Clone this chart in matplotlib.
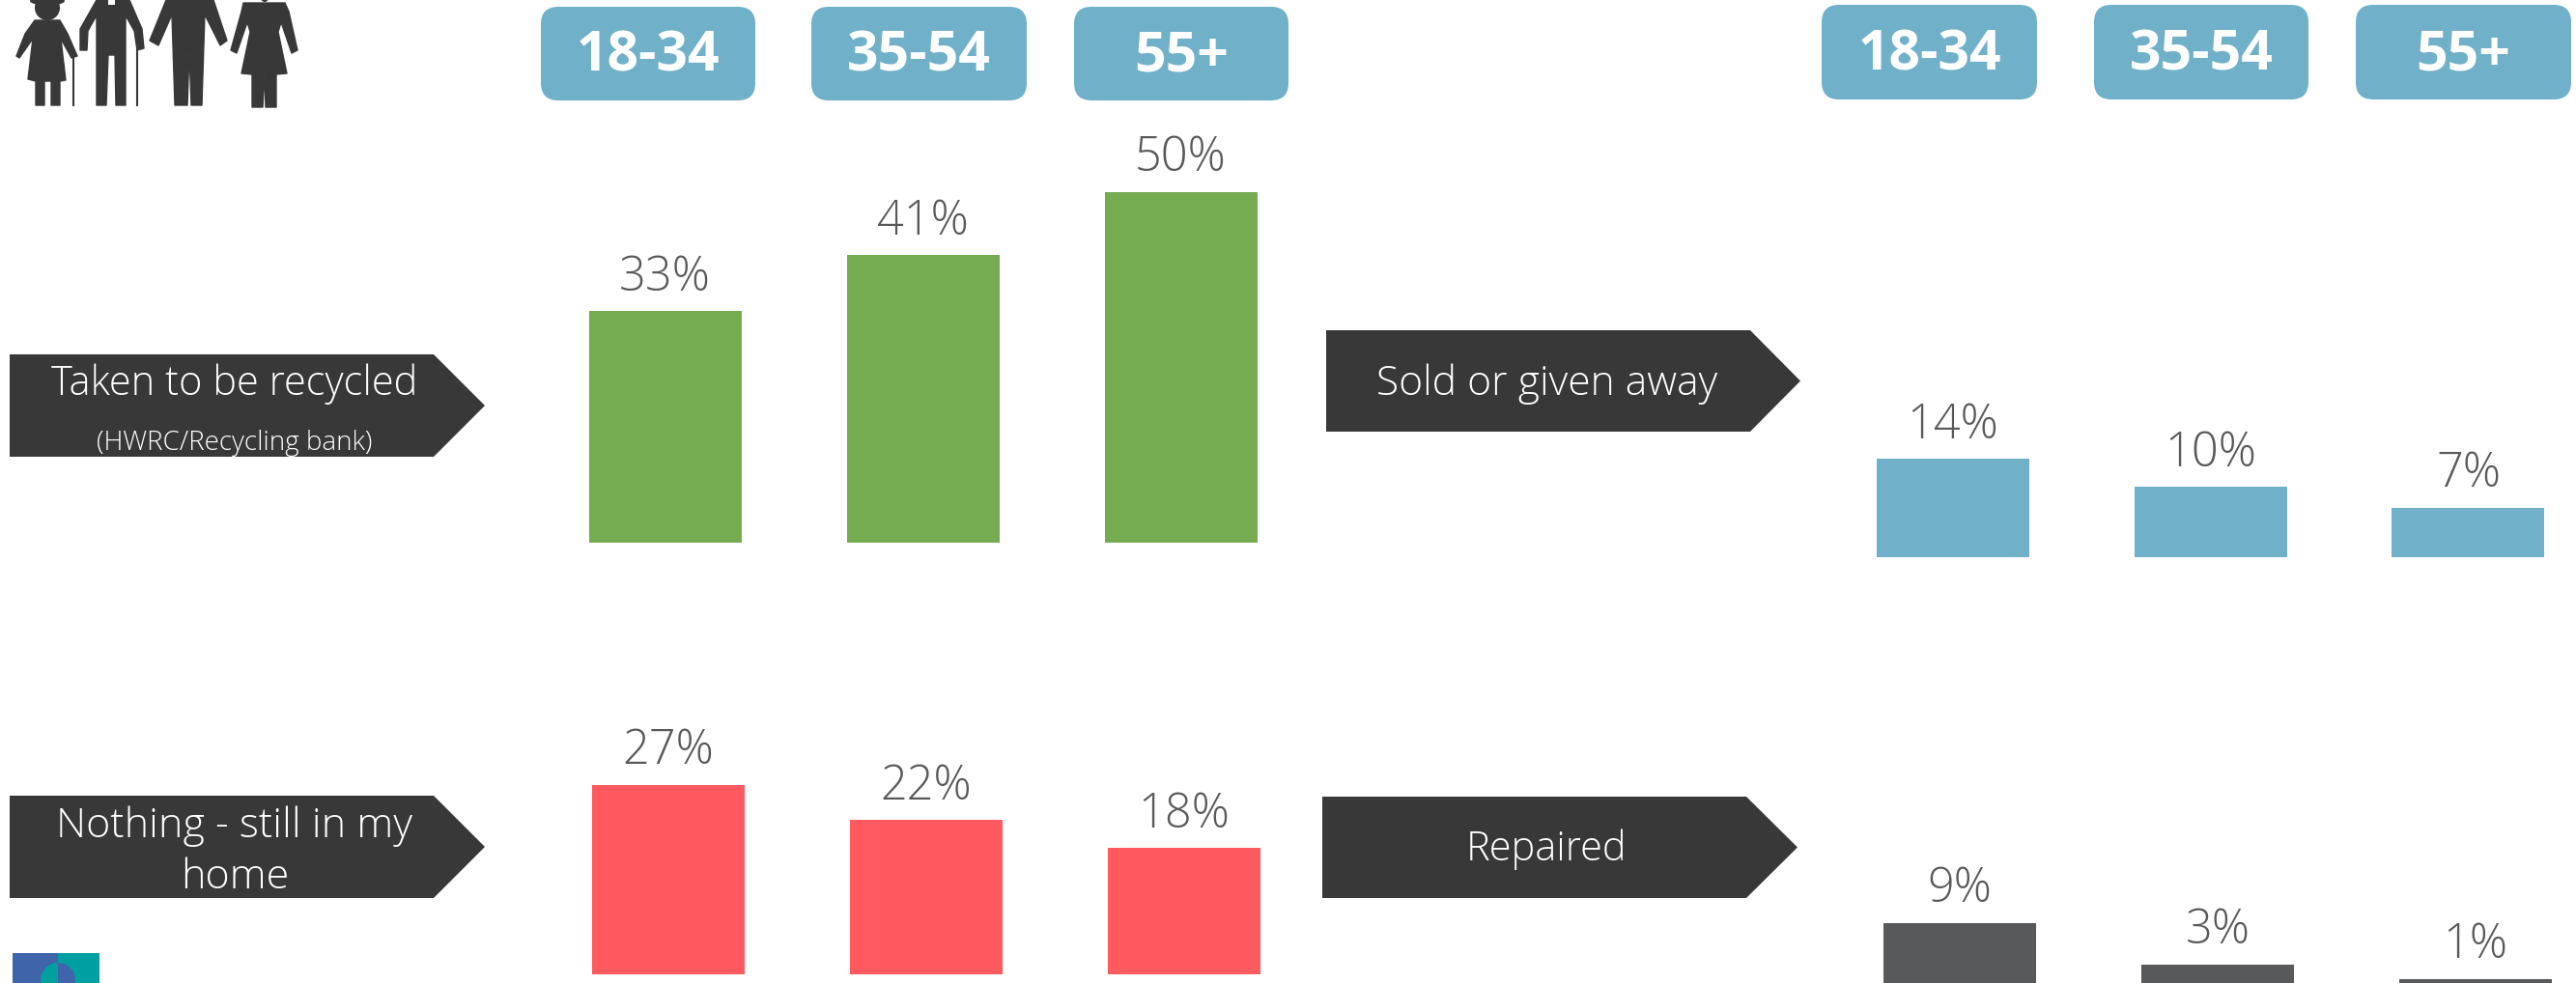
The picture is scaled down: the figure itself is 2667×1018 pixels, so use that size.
#!/usr/bin/env python3
import matplotlib
matplotlib.use("Agg")
import matplotlib.pyplot as plt
from matplotlib.patches import FancyBboxPatch, Polygon, Rectangle, Circle, Ellipse, Wedge

W, H = 2667, 1018
FONT = "Open Sans"

ages = ["18-34", "35-54", "55+"]
recycled = [33, 41, 50]
still_home = [27, 22, 18]
sold = [14, 10, 7]
repaired = [9, 3, 1]

GREEN = "#75AC52"
RED = "#FF5A5F"
BLUE = "#70B1C9"
GREY = "#58595B"
DARK = "#383838"
LABEL = "#595959"

fig = plt.figure(figsize=(W / 100, H / 100), dpi=100, facecolor="white")
bg = fig.add_axes([0, 0, 1, 1])
bg.set_xlim(0, W)
bg.set_ylim(H, 0)
bg.axis("off")


def bar_panel(values, color, first_centre, baseline):
    # one small axes per group, placed in pixels, 7.26 px per percent
    step = 267.0
    top = baseline - 7.26 * 60
    ax = fig.add_axes([(first_centre - step / 2) / W, 1 - baseline / H,
                       3 * step / W, (baseline - top) / H])
    ax.patch.set_alpha(0)
    bars = ax.bar(range(3), values, width=158 / step, color=color)
    ax.set_xlim(-0.5, 2.5)
    ax.set_ylim(0, 60)
    ax.axis("off")
    for b, v in zip(bars, values):
        ax.annotate("{}%".format(v), (b.get_x() + b.get_width() / 2, v),
                    xytext=(0, 7), textcoords="offset points", ha="center",
                    va="bottom", color=LABEL, fontsize=35, family=FONT,
                    fontweight=300, annotation_clip=False)


bar_panel(recycled, GREEN, 688.5, 562)
bar_panel(still_home, RED, 692, 1009)
bar_panel(sold, BLUE, 2021.5, 577)
bar_panel(repaired, GREY, 2029, 1021)


def pill(x0, x1, y0, y1, text):
    r = 18
    bg.add_patch(FancyBboxPatch((x0 + r, y0 + r), x1 - x0 - 2 * r, y1 - y0 - 2 * r,
                                boxstyle="round,pad={},rounding_size={}".format(r, r),
                                fc=BLUE, ec="none"))
    bg.text((x0 + x1) / 2, (y0 + y1) / 2 + 3, text, color="white", fontsize=41,
            fontweight="bold", family=FONT, ha="center", va="center")


for (x0, x1), t in zip([(560, 782), (840, 1063), (1112, 1334)], ages):
    pill(x0, x1, 7, 104, t)
for (x0, x1), t in zip([(1886, 2109), (2168, 2390), (2439, 2662)], ages):
    pill(x0, x1, 5, 103, t)


def arrow(x0, shoulder, tip, y0, y1):
    bg.add_patch(Polygon([(x0, y0), (shoulder, y0), (tip, (y0 + y1) / 2),
                          (shoulder, y1), (x0, y1)], fc=DARK, ec="none"))


arrow(10, 449, 502, 367, 473)
arrow(1373, 1812, 1864, 342, 447)
arrow(10, 449, 502, 824, 930)
arrow(1369, 1808, 1861, 825, 930)

txt = dict(color="white", family=FONT, fontweight=300, ha="center", va="center")
bg.text(243, 398, "Taken to be recycled", fontsize=30, **txt)
bg.text(243, 459, "(HWRC/Recycling bank)", fontsize=20, **txt)
bg.text(243, 856, "Nothing - still in my", fontsize=31, **txt)
bg.text(243, 909, "home", fontsize=31, **txt)
bg.text(1602, 398, "Sold or given away", fontsize=30.7, **txt)
bg.text(1601, 880, "Repaired", fontsize=30, **txt)

# people icon, outlines in px
people = [
    [(36, 21), (62, 21), (70, 35), (80, 58), (74, 60), (63, 40), (68, 83), (62, 84), (62, 109),
     (53, 109), (53, 84), (46, 84), (46, 109), (37, 109), (37, 84), (29, 82), (34, 40),
     (20, 60), (17, 58), (26, 35)],
    [(100, 0), (134, 0), (147, 30), (149, 50), (142, 52), (139, 32), (130, 16), (130, 109),
     (120, 109), (119, 57), (112, 57), (110, 109), (100, 109), (100, 16), (91, 32), (90, 52),
     (83, 52), (83, 30)],
    [(172, 0), (221, 0), (235, 42), (228, 47), (212, 15), (209, 109), (198, 109), (196, 53),
     (194, 109), (181, 109), (178, 15), (164, 47), (155, 42)],
    [(252, 3), (295, 3), (299, 12), (308, 52), (302, 55), (291, 23), (288, 33), (297, 76),
     (286, 77), (286, 111), (275, 111), (274, 77), (272, 111), (261, 111), (261, 77),
     (250, 76), (259, 33), (256, 23), (245, 55), (239, 52), (250, 12)],
]
for pts in people:
    bg.add_patch(Polygon(pts, fc=DARK, ec=DARK, lw=1, joinstyle="round"))
bg.add_patch(Circle((49, 8), 13, fc=DARK, ec="none"))
bg.add_patch(Ellipse((49, 1), 36, 9, fc=DARK, ec="none"))
bg.add_patch(Circle((274, -2), 4, fc=DARK, ec="none"))
bg.add_patch(Rectangle((112, 0), 7, 5, fc="white", ec="none"))
bg.plot([76, 76], [59, 109], color=DARK, lw=1.5)
bg.plot([142, 142], [50, 109], color=DARK, lw=1.5)

# logo stub at the bottom edge
bg.add_patch(Rectangle((13, 987), 47, 31, fc="#3F64AA", ec="none"))
bg.add_patch(Rectangle((60, 987), 43, 31, fc="#00A0A0", ec="none"))
bg.add_patch(Wedge((60, 1015), 18, 90, 270, fc="#00A0A0", ec="none", zorder=2))
bg.add_patch(Wedge((60, 1015), 18, 270, 90, fc="#3F64AA", ec="none", zorder=2))

fig.savefig("out.png", dpi=100)
